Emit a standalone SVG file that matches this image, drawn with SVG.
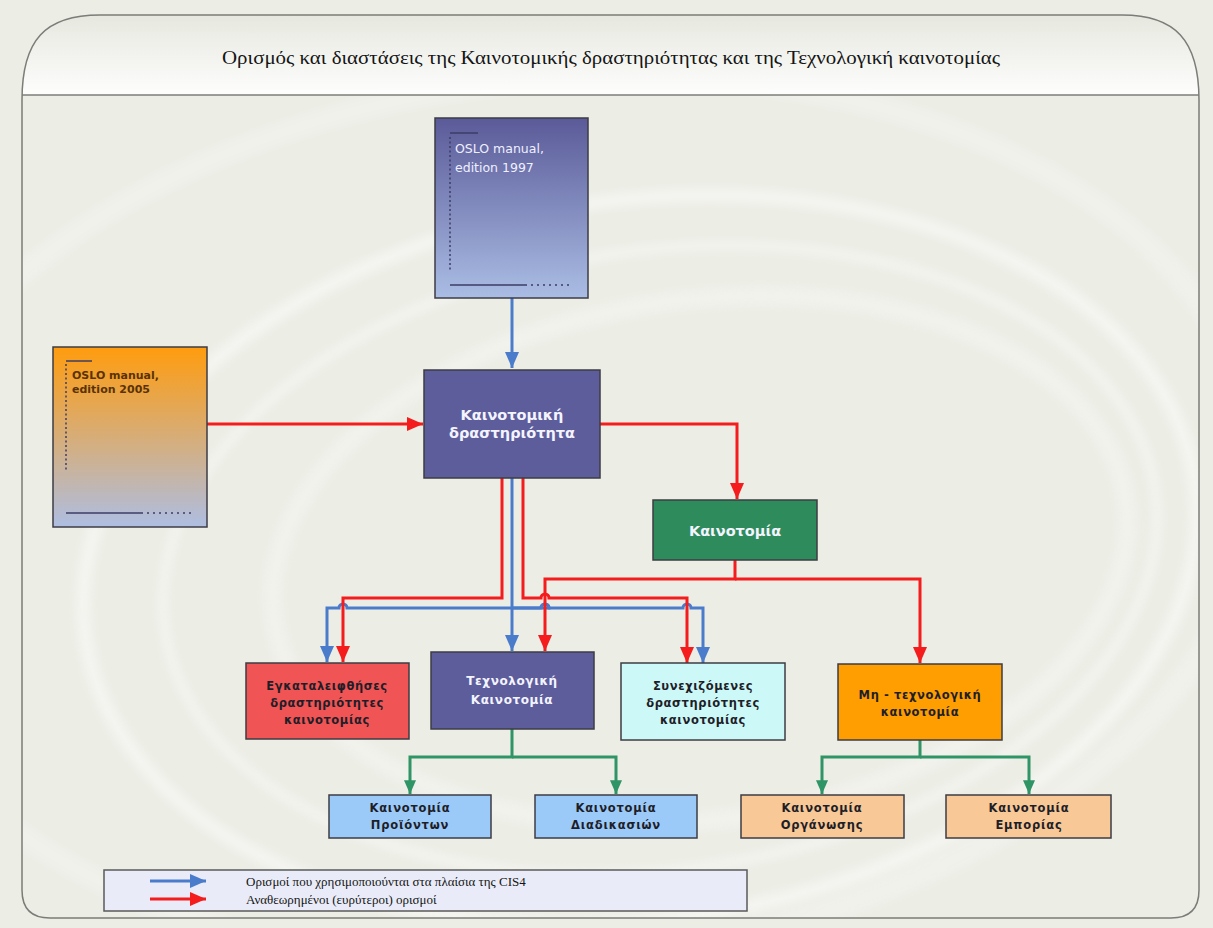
<svg xmlns="http://www.w3.org/2000/svg" width="1213" height="928" viewBox="0 0 1213 928">
  <defs>
    <style>
      .box { stroke: #3c3c44; stroke-width: 1.5; }
      .lbl { font-family: "DejaVu Sans", Verdana, sans-serif; font-weight: bold; text-anchor: middle; }
      .light { fill: #f4f4ff; }
      .dark { fill: #1e1e28; }
      .serif { font-family: "Liberation Serif", "Times New Roman", serif; fill: #151515; }
      .red { fill: none; stroke: #f41c1c; stroke-width: 3; }
      .blue { fill: none; stroke: #4a7ccb; stroke-width: 3; }
      .green { fill: none; stroke: #2f9466; stroke-width: 3; }
      .deco { fill: none; stroke: #3c3c66; stroke-width: 1.5; }
      .swoosh { fill: none; stroke: #ffffff; }
    </style>
    <linearGradient id="gHeader" x1="0" y1="0" x2="0" y2="1">
      <stop offset="0" stop-color="#e6e8df"/>
      <stop offset="1" stop-color="#ffffff"/>
    </linearGradient>
    <linearGradient id="gOslo97" x1="0" y1="0" x2="0" y2="1">
      <stop offset="0" stop-color="#5a5a98"/>
      <stop offset="1" stop-color="#aabde4"/>
    </linearGradient>
    <linearGradient id="gOslo05" x1="0" y1="0" x2="0" y2="1">
      <stop offset="0" stop-color="#ff9c0e"/>
      <stop offset="1" stop-color="#aebee2"/>
    </linearGradient>
    <clipPath id="frameClip">
      <path d="M22,100 C22,40 45,15 100,15 L1122,15 C1175,15 1199,40 1199,100 L1199,890 Q1199,918 1171,918 L50,918 Q22,918 22,890 Z"/>
    </clipPath>
    <filter id="soft" x="-10%" y="-10%" width="120%" height="120%">
      <feGaussianBlur stdDeviation="5"/>
    </filter>
    <marker id="aRed" viewBox="0 0 16 14" refX="16" refY="7" markerWidth="16" markerHeight="14" markerUnits="userSpaceOnUse" orient="auto">
      <path d="M0,0 L16,7 L0,14 Z" fill="#f41c1c"/>
    </marker>
    <marker id="aBlue" viewBox="0 0 16 14" refX="16" refY="7" markerWidth="16" markerHeight="14" markerUnits="userSpaceOnUse" orient="auto">
      <path d="M0,0 L16,7 L0,14 Z" fill="#4a7ccb"/>
    </marker>
    <marker id="aGreen" viewBox="0 0 16 14" refX="16" refY="7" markerWidth="14" markerHeight="12" markerUnits="userSpaceOnUse" orient="auto">
      <path d="M0,0 L16,7 L0,14 Z" fill="#2f9466"/>
    </marker>
  </defs>

  <!-- page background -->
  <rect x="0" y="0" width="1213" height="928" fill="#ecede5"/>

  <!-- frame with decorative swirl -->
  <g id="frame">
    <path d="M22,100 C22,40 45,15 100,15 L1122,15 C1175,15 1199,40 1199,100 L1199,890 Q1199,918 1171,918 L50,918 Q22,918 22,890 Z" fill="#ecede5"/>
    <g clip-path="url(#frameClip)" filter="url(#soft)" opacity="0.45">
      <ellipse class="swoosh" cx="640" cy="560" rx="560" ry="360" stroke-width="14" transform="rotate(-8 640 560)"/>
      <ellipse class="swoosh" cx="660" cy="560" rx="500" ry="310" stroke-width="8" transform="rotate(-8 660 560)"/>
      <ellipse class="swoosh" cx="700" cy="560" rx="430" ry="260" stroke-width="18" opacity="0.6" transform="rotate(-8 700 560)"/>
      <ellipse class="swoosh" cx="560" cy="520" rx="700" ry="440" stroke-width="22" opacity="0.5" transform="rotate(-6 560 520)"/>
    </g>
    <path d="M22,100 C22,40 45,15 100,15 L1122,15 C1175,15 1199,40 1199,100 L1199,95 L22,95 Z" fill="url(#gHeader)"/>
    <path d="M22,100 C22,40 45,15 100,15 L1122,15 C1175,15 1199,40 1199,100 L1199,890 Q1199,918 1171,918 L50,918 Q22,918 22,890 Z" fill="none" stroke="#7c7c78" stroke-width="1.5"/>
    <line x1="22" y1="95" x2="1199" y2="95" stroke="#7c7c78" stroke-width="1.5"/>
    <text class="serif" x="611" y="64" font-size="18.5" text-anchor="middle" textLength="778" lengthAdjust="spacingAndGlyphs">Ορισμός και διαστάσεις της Καινοτομικής δραστηριότητας και της Τεχνολογική καινοτομίας</text>
  </g>

  <!-- connectors -->
  <g id="connectors">
    <!-- blue: definitions used within CIS4 -->
    <path class="blue" d="M512,298 V368" marker-end="url(#aBlue)"/>
    <path class="blue" d="M512,478 V651" marker-end="url(#aBlue)"/>
    <path class="blue" d="M512,608 H549 a4,4 0 0 0 -8,0 H347 a4,4 0 0 0 -8,0 H327 V662" marker-end="url(#aBlue)"/>
    <path class="blue" d="M512,608 H541 a4,4 0 0 1 8,0 H683 a4,4 0 0 1 8,0 H703 V663" marker-end="url(#aBlue)"/>

    <!-- red: revised (broader) definitions -->
    <path class="red" d="M207,424 H423" marker-end="url(#aRed)"/>
    <path class="red" d="M600,424 H737 V499" marker-end="url(#aRed)"/>
    <path class="red" d="M502,478 V598 H343 V662" marker-end="url(#aRed)"/>
    <path class="red" d="M523,478 V598 H541 a4,4 0 0 1 8,0 H687 V663" marker-end="url(#aRed)"/>
    <path class="red" d="M735,560 V579 H545 V651" marker-end="url(#aRed)"/>
    <path class="red" d="M735,579 H920 V663" marker-end="url(#aRed)"/>

    <!-- green: sub-types -->
    <path class="green" d="M512,729 V757 H410 V794" marker-end="url(#aGreen)"/>
    <path class="green" d="M512,757 H616 V794" marker-end="url(#aGreen)"/>
    <path class="green" d="M920,740 V757 H822 V794" marker-end="url(#aGreen)"/>
    <path class="green" d="M920,757 H1029 V794" marker-end="url(#aGreen)"/>
  </g>

  <!-- OSLO manual, edition 1997 -->
  <g id="oslo1997">
    <rect class="box" x="435" y="118" width="153" height="180" fill="url(#gOslo97)"/>
    <line class="deco" x1="450" y1="133" x2="478" y2="133" stroke="#38386a"/>
    <line class="deco" x1="450" y1="137" x2="450" y2="270" stroke-dasharray="2 2.5"/>
    <line class="deco" x1="450" y1="285" x2="525" y2="285"/>
    <line class="deco" x1="525" y1="285" x2="573" y2="285" stroke-dasharray="2 4"/>
    <text x="455" y="153" font-family="'DejaVu Sans', Verdana, sans-serif" font-size="12.5" fill="#eef0ff">OSLO manual,</text>
    <text x="455" y="172" font-family="'DejaVu Sans', Verdana, sans-serif" font-size="12.5" fill="#eef0ff">edition 1997</text>
  </g>

  <!-- OSLO manual, edition 2005 -->
  <g id="oslo2005">
    <rect class="box" x="53" y="347" width="154" height="180" fill="url(#gOslo05)"/>
    <line class="deco" x1="66" y1="361" x2="92" y2="361" stroke="#6a5030"/>
    <line class="deco" x1="66" y1="364" x2="66" y2="470" stroke-dasharray="2 2.5"/>
    <line class="deco" x1="66" y1="513" x2="141" y2="513"/>
    <line class="deco" x1="141" y1="513" x2="192" y2="513" stroke-dasharray="2 4"/>
    <text x="72" y="379" font-family="'DejaVu Sans', Verdana, sans-serif" font-size="11" font-weight="bold" fill="#5a3206">OSLO manual,</text>
    <text x="72" y="393" font-family="'DejaVu Sans', Verdana, sans-serif" font-size="11" font-weight="bold" fill="#5a3206">edition 2005</text>
  </g>

  <!-- Innovative activity -->
  <g id="innovative-activity">
    <rect class="box" x="424" y="370" width="176" height="108" fill="#5d5d9b"/>
    <text class="lbl light" x="512" y="420" font-size="14.5">Καινοτομική</text>
    <text class="lbl light" x="512" y="438" font-size="14.5">δραστηριότητα</text>
  </g>

  <!-- Innovation -->
  <g id="innovation">
    <rect class="box" x="653" y="500" width="164" height="60" fill="#2e8b5c"/>
    <text class="lbl light" x="735" y="536" font-size="14.5">Καινοτομία</text>
  </g>

  <!-- Abandoned innovation activities -->
  <g id="abandoned">
    <rect class="box" x="246" y="663" width="163" height="76" fill="#f05454"/>
    <text class="lbl dark" x="327" y="690" font-size="11.5" letter-spacing="0.6">Εγκαταλειφθήσες</text>
    <text class="lbl dark" x="327" y="707" font-size="11.5" letter-spacing="0.6">δραστηριότητες</text>
    <text class="lbl dark" x="327" y="724" font-size="11.5" letter-spacing="0.6">καινοτομίας</text>
  </g>

  <!-- Technological innovation -->
  <g id="technological">
    <rect class="box" x="431" y="652" width="163" height="77" fill="#5d5d9b"/>
    <text class="lbl light" x="512" y="685" font-size="12" letter-spacing="0.6" font-weight="normal">Τεχνολογική</text>
    <text class="lbl light" x="512" y="704" font-size="12" letter-spacing="0.6" font-weight="normal">Καινοτομία</text>
  </g>

  <!-- Ongoing innovation activities -->
  <g id="ongoing">
    <rect class="box" x="621" y="663" width="164" height="77" fill="#cdf8f8"/>
    <text class="lbl dark" x="703" y="690" font-size="11.5" letter-spacing="0.6">Συνεχιζόμενες</text>
    <text class="lbl dark" x="703" y="707" font-size="11.5" letter-spacing="0.6">δραστηριότητες</text>
    <text class="lbl dark" x="703" y="724" font-size="11.5" letter-spacing="0.6">καινοτομίας</text>
  </g>

  <!-- Non-technological innovation -->
  <g id="non-technological">
    <rect class="box" x="838" y="664" width="164" height="76" fill="#ff9e00"/>
    <text class="lbl dark" x="920" y="699" font-size="11.5" letter-spacing="0.6">Μη - τεχνολογική</text>
    <text class="lbl dark" x="920" y="716" font-size="11.5" letter-spacing="0.6">καινοτομία</text>
  </g>

  <!-- Product innovation -->
  <g id="product">
    <rect class="box" x="329" y="795" width="162" height="43" fill="#9ccaf8"/>
    <text class="lbl dark" x="410" y="812" font-size="11.5" letter-spacing="0.8">Καινοτομία</text>
    <text class="lbl dark" x="410" y="829" font-size="11.5" letter-spacing="0.8">Προϊόντων</text>
  </g>

  <!-- Process innovation -->
  <g id="process">
    <rect class="box" x="535" y="795" width="162" height="43" fill="#9ccaf8"/>
    <text class="lbl dark" x="616" y="812" font-size="11.5" letter-spacing="0.8">Καινοτομία</text>
    <text class="lbl dark" x="616" y="829" font-size="11.5" letter-spacing="0.8">Διαδικασιών</text>
  </g>

  <!-- Organisational innovation -->
  <g id="organisation">
    <rect class="box" x="741" y="795" width="163" height="43" fill="#f8c896"/>
    <text class="lbl dark" x="822" y="812" font-size="11.5" letter-spacing="0.8">Καινοτομία</text>
    <text class="lbl dark" x="822" y="829" font-size="11.5" letter-spacing="0.8">Οργάνωσης</text>
  </g>

  <!-- Marketing innovation -->
  <g id="marketing">
    <rect class="box" x="946" y="795" width="165" height="43" fill="#f8c896"/>
    <text class="lbl dark" x="1029" y="812" font-size="11.5" letter-spacing="0.8">Καινοτομία</text>
    <text class="lbl dark" x="1029" y="829" font-size="11.5" letter-spacing="0.8">Εμπορίας</text>
  </g>

  <!-- Legend -->
  <g id="legend">
    <rect x="104" y="870" width="643" height="41" fill="#e9ecf8" stroke="#5a5a5a" stroke-width="1.5"/>
    <path class="blue" d="M150,881 H206" marker-end="url(#aBlue)"/>
    <path class="red" d="M150,899 H206" marker-end="url(#aRed)"/>
    <text class="serif" x="246" y="886" font-size="13">Ορισμοί που χρησιμοποιούνται στα πλαίσια της CIS4</text>
    <text class="serif" x="246" y="904" font-size="13">Αναθεωρημένοι (ευρύτεροι) ορισμοί</text>
  </g>
</svg>
